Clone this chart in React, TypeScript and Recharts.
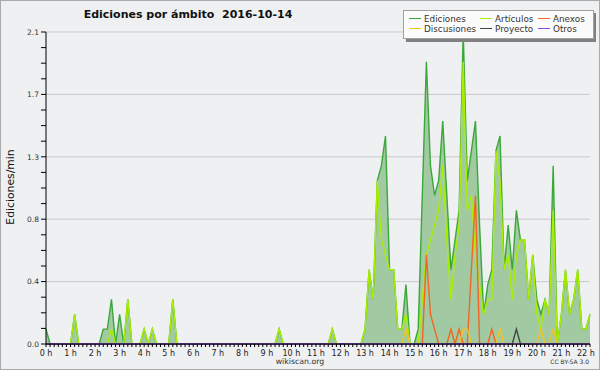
import React from "react";
import { ComposedChart, Area, Line, XAxis, YAxis, CartesianGrid } from "recharts";

// One value per 10-minute slot, from 0h00 to 22h10 (edits per minute)
const SLOT_MINUTES = 10;

const EDICIONES = [
  0.1, 0, 0, 0, 0, 0, 0, 0.2, 0, 0,
  0, 0, 0, 0, 0.1, 0.1, 0.3, 0, 0.2, 0,
  0.3, 0, 0, 0, 0.1, 0, 0.1, 0, 0, 0,
  0, 0.3, 0, 0, 0, 0, 0, 0, 0, 0,
  0, 0, 0, 0, 0, 0, 0, 0, 0, 0,
  0, 0, 0, 0, 0, 0, 0, 0.1, 0, 0,
  0, 0, 0, 0, 0, 0, 0, 0, 0, 0,
  0.1, 0, 0, 0, 0, 0, 0, 0, 0.1, 0.5,
  0.3, 1.1, 1.2, 1.4, 0.5, 0.5, 0.1, 0.1, 0.4, 0,
  0, 0.1, 1.0, 1.9, 1.2, 1.0, 1.1, 1.5, 1.0, 0.5,
  0.7, 0.9, 2.1, 1.1, 1.3, 1.5, 0.8, 0.2, 0.4, 0.5,
  1.3, 1.4, 0.5, 0.8, 0.5, 0.9, 0.7, 0.7, 0.3, 0.6,
  0.3, 0.2, 0.3, 0.2, 1.2, 0, 0.2, 0.5, 0.2, 0.3,
  0.5, 0.1, 0.1, 0.2,
];

const ARTICULOS = [
  0, 0, 0, 0, 0, 0, 0, 0.2, 0, 0,
  0, 0, 0, 0, 0, 0, 0.1, 0, 0, 0,
  0.3, 0, 0, 0, 0.1, 0, 0.1, 0, 0, 0,
  0, 0.3, 0, 0, 0, 0, 0, 0, 0, 0,
  0, 0, 0, 0, 0, 0, 0, 0, 0, 0,
  0, 0, 0, 0, 0, 0, 0, 0.1, 0, 0,
  0, 0, 0, 0, 0, 0, 0, 0, 0, 0,
  0.1, 0, 0, 0, 0, 0, 0, 0, 0.1, 0.5,
  0.3, 1.1, 0.7, 0.6, 0.5, 0.5, 0.1, 0.1, 0.2, 0,
  0, 0, 0.3, 0.6, 0.7, 0.8, 0.9, 1.2, 0.7, 0.3,
  0.6, 0.8, 1.9, 0.9, 1.0, 0.6, 0.4, 0.2, 0.3, 0.3,
  1.3, 1.1, 0.5, 0.6, 0.3, 0.6, 0.7, 0.7, 0.3, 0.6,
  0.2, 0.1, 0.3, 0.2, 0.9, 0, 0.2, 0.5, 0.2, 0.3,
  0.5, 0.1, 0.1, 0.2,
];

const ANEXOS = [
  0, 0, 0, 0, 0, 0, 0, 0, 0, 0,
  0, 0, 0, 0, 0, 0, 0, 0, 0, 0,
  0, 0, 0, 0, 0, 0, 0, 0, 0, 0,
  0, 0, 0, 0, 0, 0, 0, 0, 0, 0,
  0, 0, 0, 0, 0, 0, 0, 0, 0, 0,
  0, 0, 0, 0, 0, 0, 0, 0, 0, 0,
  0, 0, 0, 0, 0, 0, 0, 0, 0, 0,
  0, 0, 0, 0, 0, 0, 0, 0, 0, 0,
  0, 0, 0, 0, 0, 0, 0, 0, 0, 0,
  0, 0, 0, 0.6, 0.2, 0.1, 0, 0, 0, 0.1,
  0, 0.1, 0, 0, 0.5, 1.0, 0, 0, 0, 0.1,
  0, 0, 0, 0, 0, 0, 0, 0, 0, 0,
  0, 0, 0, 0, 0, 0, 0, 0, 0, 0,
  0, 0, 0, 0,
];

const DISCUSIONES = [
  0, 0, 0, 0, 0, 0, 0, 0, 0, 0,
  0, 0, 0, 0, 0, 0, 0, 0, 0, 0,
  0, 0, 0, 0, 0, 0, 0, 0, 0, 0,
  0, 0, 0, 0, 0, 0, 0, 0, 0, 0,
  0, 0, 0, 0, 0, 0, 0, 0, 0, 0,
  0, 0, 0, 0, 0, 0, 0, 0, 0, 0,
  0, 0, 0, 0, 0, 0, 0, 0, 0, 0,
  0, 0, 0, 0, 0, 0, 0, 0, 0, 0,
  0, 0, 0, 0, 0, 0, 0, 0, 0.1, 0,
  0, 0, 0, 0, 0, 0, 0, 0, 0, 0,
  0, 0, 0.1, 0.1, 0, 0, 0, 0, 0, 0,
  0, 0.1, 0, 0, 0, 0, 0, 0, 0, 0,
  0, 0.1, 0, 0, 0.1, 0, 0, 0, 0, 0,
  0, 0, 0, 0,
];

const PROYECTO = [
  0, 0, 0, 0, 0, 0, 0, 0, 0, 0,
  0, 0, 0, 0, 0, 0, 0, 0, 0, 0,
  0, 0, 0, 0, 0, 0, 0, 0, 0, 0,
  0, 0, 0, 0, 0, 0, 0, 0, 0, 0,
  0, 0, 0, 0, 0, 0, 0, 0, 0, 0,
  0, 0, 0, 0, 0, 0, 0, 0, 0, 0,
  0, 0, 0, 0, 0, 0, 0, 0, 0, 0,
  0, 0, 0, 0, 0, 0, 0, 0, 0, 0,
  0, 0, 0, 0, 0, 0, 0, 0, 0, 0,
  0, 0, 0, 0, 0, 0, 0, 0, 0, 0,
  0, 0, 0, 0, 0, 0, 0, 0, 0, 0,
  0, 0, 0, 0, 0, 0.1, 0, 0, 0, 0,
  0, 0, 0, 0, 0, 0, 0, 0, 0, 0,
  0, 0, 0, 0,
];

const OTROS = [
  0, 0, 0, 0, 0, 0, 0, 0, 0, 0,
  0, 0, 0, 0, 0, 0, 0, 0, 0, 0,
  0, 0, 0, 0, 0, 0, 0, 0, 0, 0,
  0, 0, 0, 0, 0, 0, 0, 0, 0, 0,
  0, 0, 0, 0, 0, 0, 0, 0, 0, 0,
  0, 0, 0, 0, 0, 0, 0, 0, 0, 0,
  0, 0, 0, 0, 0, 0, 0, 0, 0, 0,
  0, 0, 0, 0, 0, 0, 0, 0, 0, 0,
  0, 0, 0, 0, 0, 0, 0, 0, 0, 0,
  0, 0, 0, 0, 0, 0, 0, 0, 0, 0,
  0, 0, 0, 0, 0, 0, 0, 0, 0, 0,
  0, 0, 0, 0, 0, 0, 0, 0, 0, 0,
  0, 0, 0, 0, 0, 0, 0, 0, 0, 0,
  0, 0, 0, 0,
];

const HOUR_LABELS = [
  "0 h", "1 h", "2 h", "3 h", "4 h", "5 h", "6 h", "7 h", "8 h", "9 h", "10 h", "11 h",
  "12 h", "13 h", "14 h", "15 h", "16 h", "17 h", "18 h", "19 h", "20 h", "21 h", "22 h",
];

const Y_TICKS = [0, 0.42, 0.84, 1.26, 1.68, 2.1];

const TITLE = "Ediciones por ámbito  2016-10-14";
const Y_LABEL = "Ediciones/min";

const SERIES = [
  { key: "ediciones", name: "Ediciones", color: "#3aa83a" },
  { key: "articulos", name: "Artículos", color: "#aaee00" },
  { key: "anexos", name: "Anexos", color: "#f26522" },
  { key: "discusiones", name: "Discusiones", color: "#f2c41f" },
  { key: "proyecto", name: "Proyecto", color: "#444444" },
  { key: "otros", name: "Otros", color: "#8a4fe0" },
];

const FILL = "#a2caa2";
const BG = "#eff0f2";
const FONT = "'DejaVu Sans', Verdana, sans-serif";

const data = EDICIONES.map((v, i) => ({
  t: i * SLOT_MINUTES,
  ediciones: v,
  articulos: ARTICULOS[i],
  anexos: ANEXOS[i],
  discusiones: DISCUSIONES[i],
  proyecto: PROYECTO[i],
  otros: OTROS[i],
}));

const lastT = (EDICIONES.length - 1) * SLOT_MINUTES;
const xTicks = data.map((d) => d.t);

// 3 minor ticks between each labelled y tick
const yTicks: number[] = [];
for (let k = 0; k < Y_TICKS.length - 1; k++) {
  const a = Y_TICKS[k];
  const b = Y_TICKS[k + 1];
  for (let j = 0; j < 4; j++) yTicks.push(Number((a + ((b - a) * j) / 4).toFixed(4)));
}
yTicks.push(Y_TICKS[Y_TICKS.length - 1]);

function XTick(props: any) {
  const { x, y, payload } = props;
  const m = payload.value;
  if (m % 60 !== 0) return <g />;
  return (
    <text x={x} y={y} dy={6.5} textAnchor="middle" fontSize={8} fill="#222" fontFamily={FONT}>
      {HOUR_LABELS[m / 60]}
    </text>
  );
}

function YTick(props: any) {
  const { x, y, payload } = props;
  const major = Y_TICKS.some((v) => Math.abs(v - payload.value) < 1e-6);
  if (!major) return <g />;
  return (
    <text x={x} y={y} dy={2.8} textAnchor="end" fontSize={7.5} fill="#333" fontFamily={FONT}>
      {payload.value.toFixed(1)}
    </text>
  );
}

const LEGEND_COLS = [409, 480, 538];
const LEGEND_ROWS = [22, 32];

export default function App() {
  return (
    <div style={{ position: "relative", width: 600, height: 370, background: BG }}>
      <style>{"body{margin:0}"}</style>
      <ComposedChart
        width={600}
        height={370}
        data={data}
        margin={{ top: 32, right: 10, bottom: 6, left: 0 }}
      >
        <CartesianGrid
          vertical={false}
          horizontalValues={Y_TICKS.slice(1)}
          stroke="#c9c9c9"
          strokeWidth={1}
        />
        <Area
          type="linear"
          dataKey="ediciones"
          stroke={SERIES[0].color}
          strokeWidth={1.4}
          fill={FILL}
          fillOpacity={1}
          dot={false}
          activeDot={false}
          isAnimationActive={false}
        />
        {SERIES.slice(1).map((s) => (
          <Line
            key={s.key}
            type="linear"
            dataKey={s.key}
            stroke={s.color}
            strokeWidth={1.4}
            dot={false}
            activeDot={false}
            isAnimationActive={false}
          />
        ))}
        <XAxis
          dataKey="t"
          type="number"
          domain={[0, lastT]}
          ticks={xTicks}
          interval={0}
          height={20}
          tickSize={3}
          tickMargin={2}
          tick={<XTick />}
          axisLine={{ stroke: "#000" }}
          tickLine={{ stroke: "#000" }}
        />
        <YAxis
          type="number"
          domain={[0, Y_TICKS[Y_TICKS.length - 1]]}
          ticks={yTicks}
          interval={0}
          width={46}
          tickSize={5}
          tickMargin={2}
          tick={<YTick />}
          axisLine={{ stroke: "#000" }}
          tickLine={{ stroke: "#000" }}
        />
      </ComposedChart>

      <svg
        width={600}
        height={370}
        style={{ position: "absolute", left: 0, top: 0, pointerEvents: "none" }}
        fontFamily={FONT}
      >
        <rect x={0.5} y={0.5} width={599} height={369} fill="none" stroke="#aaaaaa" />
        <text x={188} y={18} textAnchor="middle" fontSize={11} fontWeight="bold" fill="#111" xmlSpace="preserve">
          {TITLE}
        </text>
        <text
          transform="translate(13.5,187) rotate(-90)"
          textAnchor="middle"
          fontSize={10.8}
          fill="#111"
        >
          {Y_LABEL}
        </text>
        <text x={300} y={364} textAnchor="middle" fontSize={7.8} fill="#333">
          wikiscan.org
        </text>
        <text x={589} y={364} textAnchor="end" fontSize={6} fill="#333">
          CC BY-SA 3.0
        </text>

        {/* legend box with drop shadow */}
        <rect x={406} y={13} width={190} height={29} fill="#808080" />
        <rect x={403.5} y={10.5} width={190} height={28} fill="#fbfbfb" stroke="#a0a0a0" />
        {SERIES.map((s, i) => {
          const cx = LEGEND_COLS[i % 3];
          const cy = LEGEND_ROWS[Math.floor(i / 3)];
          return (
            <g key={s.key}>
              <line x1={cx} x2={cx + 12} y1={cy - 3.5} y2={cy - 3.5} stroke={s.color} strokeWidth={1} />
              <text x={cx + 15} y={cy} fontSize={8.8} fill="#333">
                {s.name}
              </text>
            </g>
          );
        })}
      </svg>
    </div>
  );
}
